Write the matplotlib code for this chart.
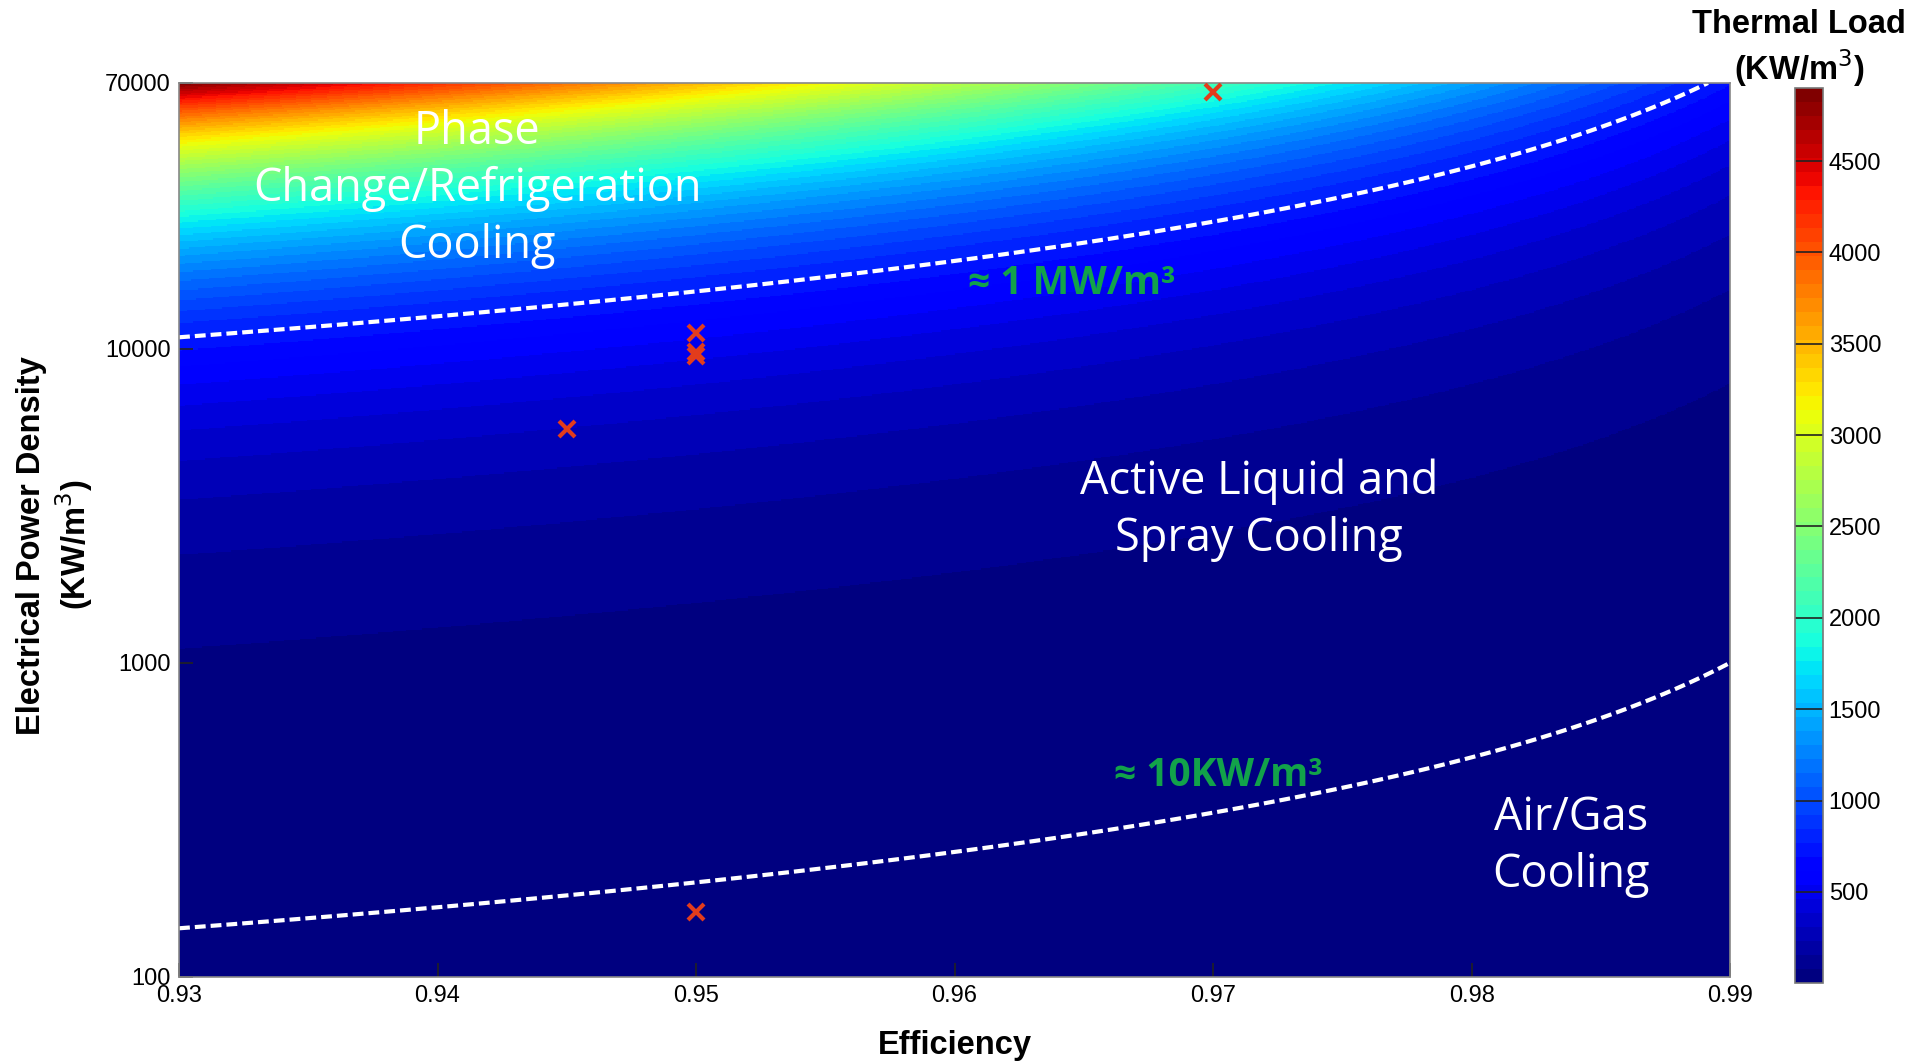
import numpy as np
import matplotlib
matplotlib.use("Agg")
import matplotlib.pyplot as plt
from matplotlib.ticker import FixedLocator, FixedFormatter

# ---- data ----
eff_limits = [0.93, 0.99]
power_limits = [100, 70000]
contour_levels = [10, 760]          # thermal load boundaries (KW/m^3)
marker_eff = [0.97, 0.95, 0.95, 0.95, 0.945, 0.95]
marker_power = [65500, 11240, 9780, 9440, 5530, 161]
x_ticks = [0.93, 0.94, 0.95, 0.96, 0.97, 0.98, 0.99]
x_tick_labels = ["0.93", "0.94", "0.95", "0.96", "0.97", "0.98", "0.99"]
y_ticks = [100, 1000, 10000, 70000]
y_tick_labels = ["100", "1000", "10000", "70000"]
cbar_ticks = [500, 1000, 1500, 2000, 2500, 3000, 3500, 4000, 4500]

# thermal load field: loss = P * (1 - efficiency)
eff = np.linspace(eff_limits[0], eff_limits[1], 700)
power = np.logspace(np.log10(power_limits[0]), np.log10(power_limits[1]), 700)
E, P = np.meshgrid(eff, power)
load = P * (1.0 - E)

fig = plt.figure(figsize=(19.17, 10.61), dpi=100)
ax = fig.add_axes([0.0934, 0.0792, 0.8091, 0.8426])
cax = fig.add_axes([0.9364, 0.0735, 0.0146, 0.8435])

cmap = plt.get_cmap("jet", 64)
mesh = ax.pcolormesh(E, P, load, cmap=cmap, vmin=load.min(), vmax=load.max(),
                     shading="auto", rasterized=True)
cs = ax.contour(E, P, load, levels=contour_levels, colors="white", linewidths=3.0)
cs.set_linestyle((0, (2.6, 1.2)))

ax.plot(marker_eff, marker_power, linestyle="none", marker="x", markersize=11,
        markeredgewidth=3, color="#e23c1c", zorder=5)

ax.set_yscale("log")
ax.set_xlim(eff_limits)
ax.set_ylim(power_limits)
ax.xaxis.set_major_locator(FixedLocator(x_ticks))
ax.xaxis.set_major_formatter(FixedFormatter(x_tick_labels))
ax.yaxis.set_major_locator(FixedLocator(y_ticks))
ax.yaxis.set_major_formatter(FixedFormatter(y_tick_labels))
ax.yaxis.set_minor_locator(FixedLocator([]))
ax.tick_params(axis="both", which="major", direction="in", length=10, width=1.2,
               labelsize=17, color="#222222", pad=6)
ax.tick_params(axis="both", which="minor", length=0)
for s in ax.spines.values():
    s.set_color("#888888")
    s.set_linewidth(1.2)

lab_font = dict(family="Liberation Sans", fontweight="bold", fontsize=23.5)
for lbl in ax.get_xticklabels() + ax.get_yticklabels():
    lbl.set_family("Liberation Sans")
ax.set_xlabel("Efficiency", labelpad=16, **lab_font)
ax.set_ylabel("Electrical Power Density\n(KW/m$^3$)", linespacing=1.2, **lab_font)
ax.yaxis.set_label_coords(-0.054, 0.483)

# region annotations
white = dict(color="white", fontsize=32.5, family="Open Sans", ha="center", va="center",
             linespacing=1.3)
ax.text(0.94153, 32200, "Phase\nChange/Refrigeration\nCooling", **white)
ax.text(0.97178, 3060, "Active Liquid and\nSpray Cooling", **white)
ax.text(0.98385, 260, "Air/Gas\nCooling", **white)
green = dict(color="#12a24a", fontsize=28, family="Open Sans", fontweight="bold",
             ha="center", va="center")
ax.text(0.96455, 16070, "\u2248 1 MW/m\u00b3", **green)
ax.text(0.97019, 437, "\u2248 10KW/m\u00b3", **green)

# colorbar
cb = fig.colorbar(mesh, cax=cax)
cb.set_ticks(cbar_ticks)
cb.ax.tick_params(direction="in", length=10, width=1.2, labelsize=17, color="#222222",
                  left=True, right=True, pad=4)
for lbl in cb.ax.get_yticklabels():
    lbl.set_family("Liberation Sans")
cb.outline.set_edgecolor("#777777")
cb.outline.set_linewidth(1.2)
fig.text(0.9385, 0.954, "Thermal Load\n(KW/m$^3$)", ha="center", va="center",
         linespacing=1.22, **lab_font)

fig.savefig("out.png", dpi=100, facecolor="white")
